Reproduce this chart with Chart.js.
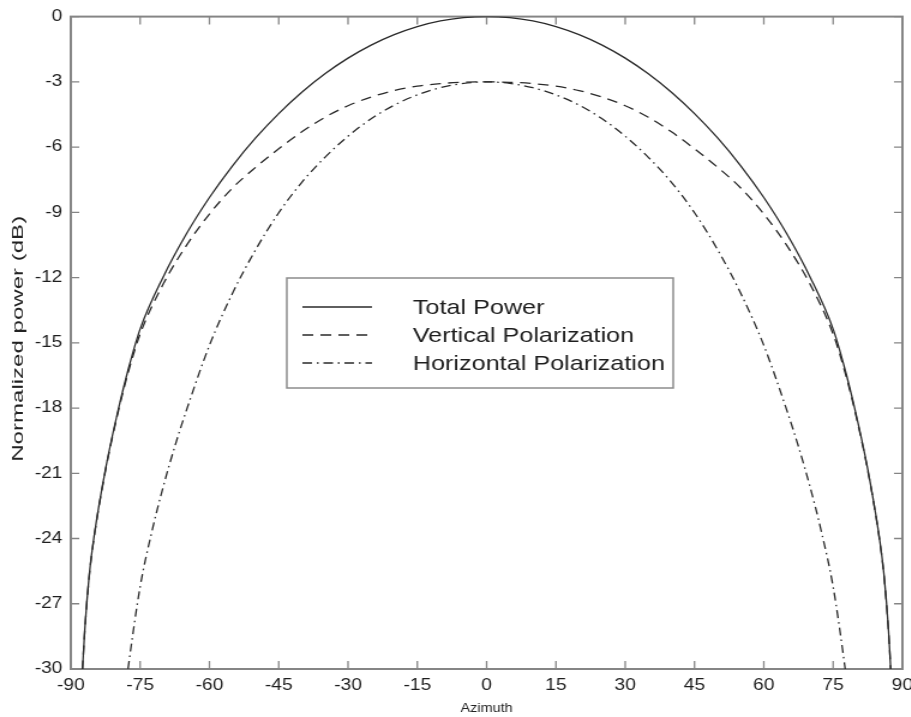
<!DOCTYPE html>
<html>
<head>
<meta charset="utf-8">
<script src="https://cdn.jsdelivr.net/npm/chart.js@4.4.1/dist/chart.umd.min.js"></script>
<style>
  html, body { margin: 0; padding: 0; background: #fff; overflow: hidden; }
  /* La figura original está estirada en horizontal: se dibuja más estrecha y se escala */
  #lienzo { width: 759px; height: 717px; transform: scaleX(1.2); transform-origin: 0 0; }
</style>
</head>
<body>
<div id="lienzo"><canvas id="graficoPatron" width="759" height="717"></canvas></div>
<script>
// Marcas de los ejes
const ticksAzimut = [-90, -75, -60, -45, -30, -15, 0, 15, 30, 45, 60, 75, 90];
const ticksPotencia = [0, -3, -6, -9, -12, -15, -18, -21, -24, -27, -30];

// Potencia total (línea continua)
const azimutTotal = [-88, -87, -86, -85, -82.5, -80, -77.5, -75, -70, -65, -60, -55, -50, -45, -40, -35, -30, -25, -20, -15, -10, -5, 0,
                     5, 10, 15, 20, 25, 30, 35, 40, 45, 50, 55, 60, 65, 70, 75, 77.5, 80, 82.5, 85, 86, 87, 88];
const potenciaTotal = [-32.05, -28.25, -25.65, -23.95, -20.82, -18.32, -16.17, -14.37, -11.97, -10.0, -8.32, -6.86, -5.58, -4.46, -3.48, -2.63, -1.91, -1.31, -0.83, -0.46, -0.2, -0.05, 0,
                       -0.05, -0.2, -0.46, -0.83, -1.31, -1.91, -2.63, -3.48, -4.46, -5.58, -6.86, -8.32, -10.0, -11.97, -14.37, -16.17, -18.32, -20.82, -23.95, -25.65, -28.25, -32.05];

// Polarización vertical (discontinua)
const azimutVertical = [-88, -87, -86, -85, -82.5, -80, -77.5, -75, -70, -65, -60, -55, -50, -45, -40, -35, -30, -25, -20, -15, -10, -5, 0,
                        5, 10, 15, 20, 25, 30, 35, 40, 45, 50, 55, 60, 65, 70, 75, 77.5, 80, 82.5, 85, 86, 87, 88];
const potenciaVertical = [-32.1, -28.3, -25.7, -24.0, -20.88, -18.4, -16.3, -14.6, -12.3, -10.53, -9.08, -7.88, -6.93, -6.08, -5.3, -4.63, -4.1, -3.7, -3.4, -3.2, -3.08, -3.02, -3.0,
                          -3.02, -3.08, -3.2, -3.4, -3.7, -4.1, -4.63, -5.3, -6.08, -6.93, -7.88, -9.08, -10.53, -12.3, -14.6, -16.3, -18.4, -20.88, -24.0, -25.7, -28.3, -32.1];

// Polarización horizontal (raya-punto)
const azimutHorizontal = [-80, -77.5, -75, -72.5, -70, -67.5, -65, -60, -55, -50, -45, -40, -35, -30, -25, -20, -15, -10, -5, 0,
                          5, 10, 15, 20, 25, 30, 35, 40, 45, 50, 55, 60, 65, 67.5, 70, 72.5, 75, 77.5, 80];
const potenciaHorizontal = [-34.0, -29.82, -26.22, -23.72, -21.62, -19.77, -18.12, -15.12, -12.72, -10.72, -9.02, -7.62, -6.47, -5.5, -4.7, -4.07, -3.6, -3.27, -3.07, -3.0,
                            -3.07, -3.27, -3.6, -4.07, -4.7, -5.5, -6.47, -7.62, -9.02, -10.72, -12.72, -15.12, -18.12, -19.77, -21.62, -23.72, -26.22, -29.82, -34.0];

const nombresSeries = ['Total Power', 'Vertical Polarization', 'Horizontal Polarization'];
const tituloY = 'Normalized power (dB)';

function puntos(xs, ys) { return xs.map((x, i) => ({ x: x, y: ys[i] })); }

// Marco completo con marcas hacia dentro en los cuatro lados
const marcoEjes = {
  id: 'marcoEjes',
  beforeDatasetsDraw(chart) {
    const { ctx, chartArea: a, scales: { x, y } } = chart;
    ctx.save();
    ctx.strokeStyle = '#858585';
    ctx.lineWidth = 2;
    ctx.strokeRect(a.left, a.top, a.right - a.left, a.bottom - a.top);
    ctx.lineWidth = 1.3;
    ctx.beginPath();
    x.ticks.forEach(t => {
      const px = x.getPixelForValue(t.value);
      ctx.moveTo(px, a.bottom); ctx.lineTo(px, a.bottom - 8);
      ctx.moveTo(px, a.top); ctx.lineTo(px, a.top + 8);
    });
    y.ticks.forEach(t => {
      const py = y.getPixelForValue(t.value);
      ctx.moveTo(a.left, py); ctx.lineTo(a.left + 7, py);
      ctx.moveTo(a.right, py); ctx.lineTo(a.right - 7, py);
    });
    ctx.stroke();
    ctx.restore();
  },
  // Título del eje Y, girado y alargado como en la figura
  afterDraw(chart) {
    const ctx = chart.ctx;
    const a = chart.chartArea;
    ctx.save();
    ctx.translate(15, (a.top + a.bottom) / 2 - 4);
    ctx.rotate(-Math.PI / 2);
    ctx.scale(1.85, 1);
    ctx.fillStyle = '#222';
    ctx.font = '13px "Liberation Sans", Arial, sans-serif';
    ctx.textAlign = 'center';
    ctx.textBaseline = 'middle';
    ctx.fillText(tituloY, 0, 0);
    ctx.restore();
  }
};

// Leyenda en recuadro en el centro del gráfico
const leyendaCaja = {
  id: 'leyendaCaja',
  afterDatasetsDraw(chart) {
    const ctx = chart.ctx;
    ctx.save();
    ctx.fillStyle = '#fff';
    ctx.fillRect(239, 278, 322, 110);
    ctx.strokeStyle = '#8c8c8c';
    ctx.lineWidth = 1.5;
    ctx.strokeRect(239, 278, 322, 110);
    chart.data.datasets.forEach((ds, i) => {
      const y = 307 + i * 28;
      ctx.setLineDash(ds.borderDash || []);
      ctx.strokeStyle = ds.borderColor;
      ctx.lineWidth = ds.borderWidth;
      ctx.beginPath(); ctx.moveTo(252, y); ctx.lineTo(310, y); ctx.stroke();
      ctx.setLineDash([]);
      ctx.fillStyle = '#1e1e1e';
      ctx.font = '21px "Liberation Sans", Arial, sans-serif';
      ctx.textBaseline = 'middle';
      ctx.fillText(ds.label, 344, y + 1);
    });
    ctx.restore();
  }
};

document.addEventListener('DOMContentLoaded', function () {
  const ctx = document.getElementById('graficoPatron');
  const estiloLinea = { borderColor: '#2a2a2a', borderWidth: 1.3, pointRadius: 0, fill: false, cubicInterpolationMode: 'monotone' };
  const fuente = '"Liberation Sans", Arial, sans-serif';
  new Chart(ctx, {
    type: 'line',
    data: {
      datasets: [
        Object.assign({ label: nombresSeries[0], data: puntos(azimutTotal, potenciaTotal), borderDash: [] }, estiloLinea),
        Object.assign({ label: nombresSeries[1], data: puntos(azimutVertical, potenciaVertical), borderDash: [9, 6] }, estiloLinea),
        Object.assign({ label: nombresSeries[2], data: puntos(azimutHorizontal, potenciaHorizontal), borderDash: [8, 4, 1.5, 4] }, estiloLinea)
      ]
    },
    options: {
      responsive: false, animation: false,
      layout: { padding: { top: 14, right: 7, left: 0, bottom: 0 } },
      plugins: { legend: { display: false }, tooltip: { enabled: false } },
      scales: {
        x: {
          type: 'linear', min: -90, max: 90,
          afterBuildTicks: s => { s.ticks = ticksAzimut.map(v => ({ value: v })); },
          afterFit: s => { s.height = 48; s.paddingLeft = 0; s.paddingRight = 0; },
          grid: { display: false, drawTicks: false },
          border: { display: false },
          ticks: { padding: 7, autoSkip: false, maxRotation: 0, color: '#1e1e1e', font: { family: fuente, size: 16 } },
          title: { display: true, text: 'Azimuth', color: '#222', padding: { top: 0, bottom: 1 }, font: { family: fuente, size: 12 } }
        },
        y: {
          type: 'linear', min: -30, max: 0,
          afterBuildTicks: s => { s.ticks = ticksPotencia.map(v => ({ value: v })); },
          afterFit: s => { s.width = 59; },
          grid: { display: false, drawTicks: false },
          border: { display: false },
          ticks: { padding: 7, color: '#1e1e1e', font: { family: fuente, size: 16 } },
          title: { display: false }
        }
      }
    },
    plugins: [marcoEjes, leyendaCaja]
  });
});
</script>
</body>
</html>
